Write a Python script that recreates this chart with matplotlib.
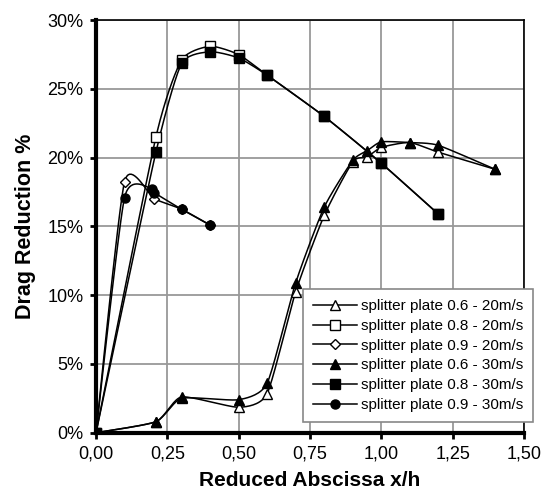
import numpy as np
import matplotlib.pyplot as plt
from matplotlib.ticker import FuncFormatter, MultipleLocator

plt.rcParams['font.family'] = ['Liberation Sans', 'DejaVu Sans']

# values (x = reduced abscissa, y = drag reduction in %)
x_06_20 = [0, 0.21, 0.3, 0.5, 0.6, 0.7, 0.8, 0.9, 0.95, 1.0, 1.1, 1.2, 1.4]
y_06_20 = [0, 0.8, 2.6, 1.85, 2.85, 10.25, 15.8, 19.7, 20.05, 20.75, 21.1, 20.4, 19.15]
x_08_20 = [0, 0.21, 0.3, 0.4, 0.5, 0.6, 0.8, 1.0, 1.2]
y_08_20 = [0, 21.5, 27.1, 28.1, 27.5, 26.0, 23.0, 19.6, 15.9]
x_09_20 = [0, 0.1, 0.205, 0.3, 0.4]
y_09_20 = [0, 18.25, 17.0, 16.25, 15.1]
x_06_30 = [0, 0.21, 0.3, 0.5, 0.6, 0.7, 0.8, 0.9, 0.95, 1.0, 1.1, 1.2, 1.4]
y_06_30 = [0, 0.8, 2.5, 2.4, 3.6, 10.9, 16.4, 19.8, 20.5, 21.15, 21.1, 20.9, 19.15]
x_08_30 = [0, 0.21, 0.3, 0.4, 0.5, 0.6, 0.8, 1.0, 1.2]
y_08_30 = [0, 20.4, 26.85, 27.7, 27.25, 26.0, 23.0, 19.6, 15.9]
x_09_30 = [0, 0.1, 0.195, 0.205, 0.3, 0.4]
y_09_30 = [0, 17.1, 17.75, 17.45, 16.25, 15.1]

labels = ['splitter plate 0.6 - 20m/s', 'splitter plate 0.8 - 20m/s',
          'splitter plate 0.9 - 20m/s', 'splitter plate 0.6 - 30m/s',
          'splitter plate 0.8 - 30m/s', 'splitter plate 0.9 - 30m/s']


def smooth(xs, ys, n=20, k=0.6):
    # cardinal spline through the points, roughly like Excel's smoothed line
    p = np.column_stack([xs, ys]).astype(float)
    p = np.vstack([p[0], p, p[-1]])
    out = []
    t = np.linspace(0, 1, n)[:, None]
    for i in range(1, len(p) - 2):
        p0, p1, p2, p3 = p[i - 1], p[i], p[i + 1], p[i + 2]
        m1 = k * (p2 - p0) / 2
        m2 = k * (p3 - p1) / 2
        h00 = 2 * t**3 - 3 * t**2 + 1
        h10 = t**3 - 2 * t**2 + t
        h01 = -2 * t**3 + 3 * t**2
        h11 = t**3 - t**2
        out.append(h00 * p1 + h10 * m1 + h01 * p2 + h11 * m2)
    out = np.vstack(out)
    return out[:, 0], out[:, 1]


fig = plt.figure(figsize=(5.44, 4.92), dpi=100)
ax = fig.add_axes([0.1765, 0.1205, 0.7865, 0.8385])

series = [
    (x_06_20, y_06_20, '^', 'white', 7.5),
    (x_08_20, y_08_20, 's', 'white', 6.5),
    (x_09_20, y_09_20, 'D', 'white', 5.5),
    (x_06_30, y_06_30, '^', 'black', 7.5),
    (x_08_30, y_08_30, 's', 'black', 6.5),
    (x_09_30, y_09_30, 'o', 'black', 6.5),
]

handles = []
for (xs, ys, m, fc, ms), lab in zip(series, labels):
    sx, sy = smooth(xs, ys)
    ax.plot(sx, sy, color='black', lw=1.1, zorder=3)
    ax.plot(xs, ys, ls='none', marker=m, mfc=fc, mec='black', ms=ms, mew=1.0, zorder=4)
    h, = ax.plot([], [], color='black', lw=1.1, marker=m, mfc=fc, mec='black', ms=ms, mew=1.0)
    handles.append(h)

ax.set_xlim(0, 1.5)
ax.set_ylim(0, 30)
ax.xaxis.set_major_locator(MultipleLocator(0.25))
ax.yaxis.set_major_locator(MultipleLocator(5))
ax.xaxis.set_major_formatter(FuncFormatter(lambda v, p: f'{v:.2f}'.replace('.', ',')))
ax.yaxis.set_major_formatter(FuncFormatter(lambda v, p: f'{v:.0f}%'))
ax.grid(True, color='#999999', lw=1.3, zorder=0)
ax.set_axisbelow(True)

for s in ['left', 'bottom']:
    ax.spines[s].set_linewidth(3)
for s in ['top', 'right']:
    ax.spines[s].set_linewidth(1.2)
ax.tick_params(direction='out', length=4, width=2, labelsize=13, colors='black', pad=5)

ax.set_xlabel('Reduced Abscissa x/h', fontsize=15, fontweight='bold', labelpad=6)
ax.set_ylabel('Drag Reduction %', fontsize=15.5, fontweight='bold', labelpad=8)

leg = ax.legend(handles, labels, loc='upper left', bbox_to_anchor=(0.4836, 0.348),
                fontsize=11, handlelength=2.9, handletextpad=0.25, labelspacing=0.38,
                borderpad=0.65, borderaxespad=0, fancybox=False, framealpha=1,
                edgecolor='#888888')
leg.get_frame().set_linewidth(1.2)
leg.set_zorder(5)

fig.savefig('out.png', dpi=100)
